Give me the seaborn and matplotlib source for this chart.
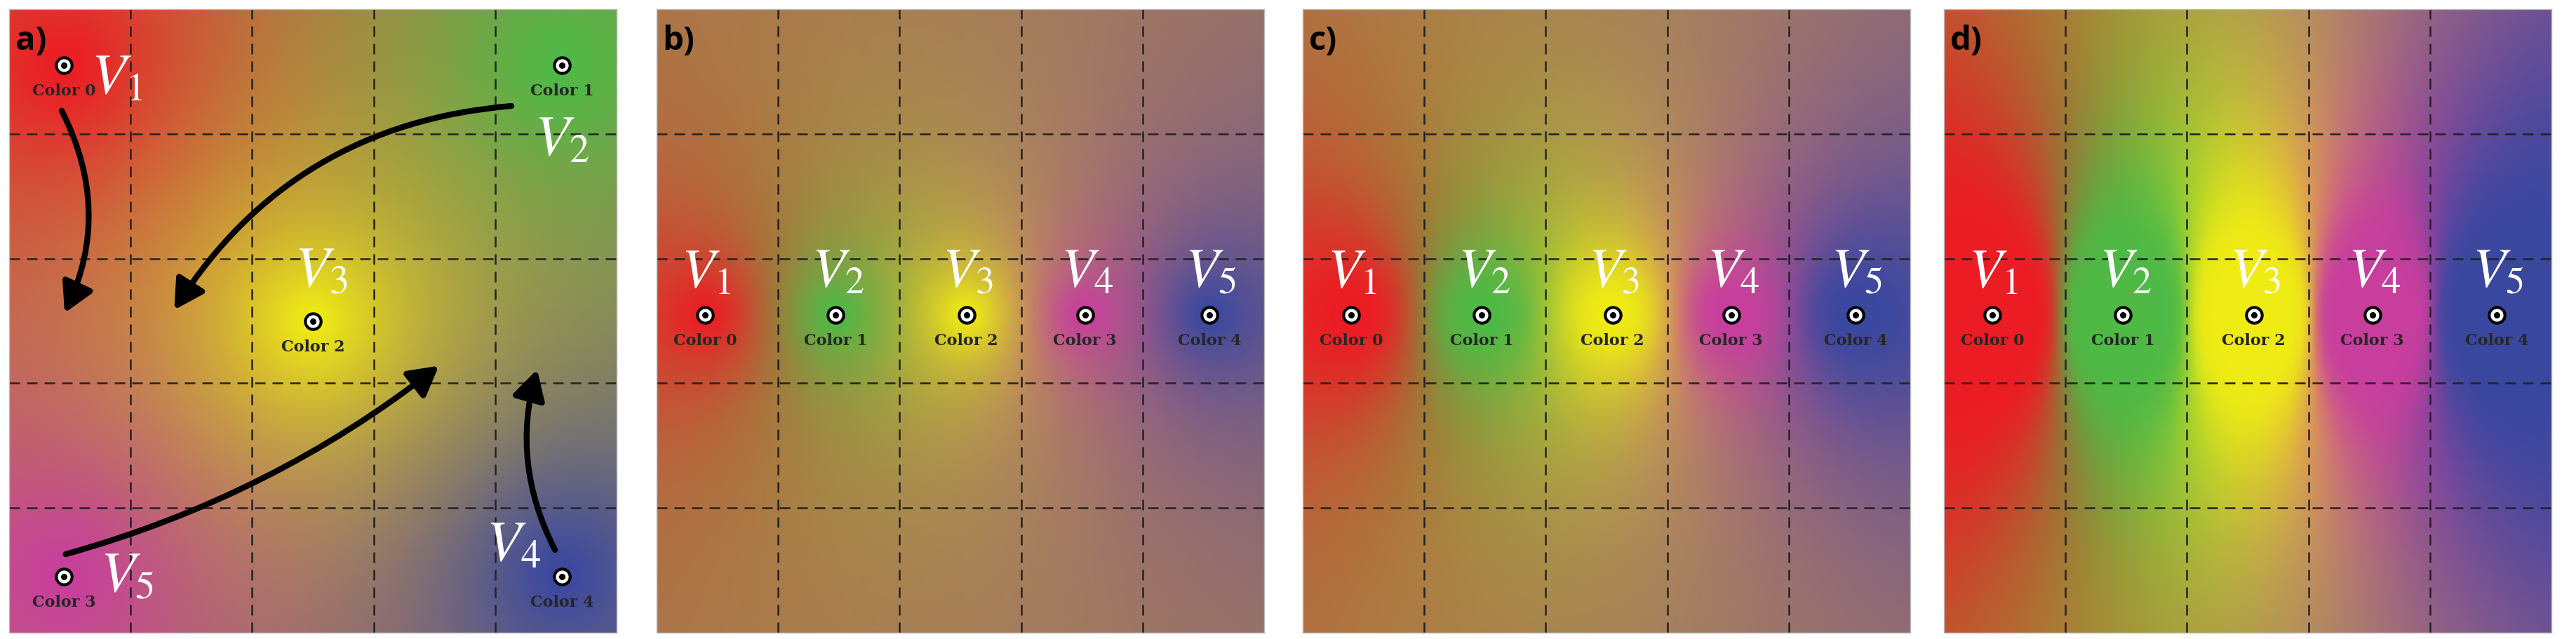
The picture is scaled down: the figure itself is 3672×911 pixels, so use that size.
import numpy as np
import matplotlib
matplotlib.use("Agg")
import matplotlib.pyplot as plt
import seaborn as sns
from matplotlib.patches import FancyArrowPatch

sns.set_style("white")
plt.rcParams['mathtext.fontset'] = 'stix'

colors = np.array([[237, 28, 36], [78, 186, 70], [240, 236, 20], [200, 62, 158], [58, 72, 160]]) / 255.0
color_labels = ["Color 0", "Color 1", "Color 2", "Color 3", "Color 4"]
v_labels = [r"$V_1$", r"$V_2$", r"$V_3$", r"$V_4$", r"$V_5$"]
panel_names = ["a)", "b)", "c)", "d)"]

pos_a_x = [0.09, 0.91, 0.50, 0.09, 0.91]
pos_a_y = [0.09, 0.09, 0.50, 0.91, 0.91]
vlab_a = [(0.135, 0.11, 0), (0.865, 0.21, 1), (0.47, 0.42, 2), (0.15, 0.91, 4), (0.785, 0.86, 3)]
pos_row_x = [0.08, 0.295, 0.51, 0.705, 0.91]
pos_row_y = [0.49] * 5
powers = [1.4, 1.5, 2.4, 7.0]

lefts = [13, 936, 1857, 2771]
W, H = 3673, 911
fig = plt.figure(figsize=(36.73, 9.11), dpi=100)

n = 300
gx, gy = np.meshgrid(np.linspace(0, 1, n), np.linspace(0, 1, n))

def idw(px, py, p):
    d = np.sqrt((gx[..., None] - np.array(px)) ** 2 + (gy[..., None] - np.array(py)) ** 2) + 1e-6
    w = d ** (-p)
    w /= w.sum(axis=2, keepdims=True)
    return np.tensordot(w, colors, axes=([2], [0])).clip(0, 1)

for k in range(4):
    ax = fig.add_axes([lefts[k] / W, 9 / H, 866 / W, 889 / H])
    if k == 0:
        px, py = pos_a_x, pos_a_y
    else:
        px, py = pos_row_x, pos_row_y
    img = idw(px, py, powers[k])
    ax.imshow(img, extent=[0, 1, 1, 0], interpolation="bilinear", aspect="auto")
    for g in [0.2, 0.4, 0.6, 0.8]:
        ax.axvline(g, color="#222222", ls=(0, (6, 4)), lw=1.8)
        ax.axhline(g, color="#222222", ls=(0, (6, 4)), lw=1.8)
    ax.scatter(px, py, s=260, facecolor="white", edgecolor="black", linewidth=3, zorder=5)
    ax.scatter(px, py, s=30, color="black", zorder=6)
    for i in range(5):
        ax.text(px[i], py[i] + 0.042, color_labels[i], ha="center", va="center",
                fontsize=16, fontweight="bold", family="DejaVu Serif", zorder=6)
    if k == 0:
        for (x, y, i) in vlab_a:
            ax.text(x, y, v_labels[i], ha="left", va="center", fontsize=58, color="white", zorder=7)
        arrows = [((0.085, 0.16), (0.09, 0.49), -0.25),
                  ((0.83, 0.155), (0.27, 0.485), 0.25),
                  ((0.09, 0.875), (0.71, 0.57), 0.1),
                  ((0.90, 0.87), (0.87, 0.575), -0.2)]
        for s, e, r in arrows:
            ax.add_patch(FancyArrowPatch(s, e, connectionstyle=f"arc3,rad={r}",
                                         arrowstyle="-|>,head_length=1.8,head_width=1.0",
                                         mutation_scale=14, lw=6, color="black", zorder=8))
    else:
        for i in range(5):
            ax.text(px[i] - 0.04, 0.42, v_labels[i], ha="left", va="center",
                    fontsize=56, color="white", zorder=7)
    ax.text(0.01, 0.025, panel_names[k], ha="left", va="top", fontsize=34,
            fontweight="bold", color="black", zorder=9, family="Open Sans")
    ax.set_xlim(0, 1)
    ax.set_ylim(1, 0)
    ax.set_xticks([])
    ax.set_yticks([])
    for sp in ax.spines.values():
        sp.set_color("#bbbbbb")
        sp.set_linewidth(1)

fig.savefig("out.png", dpi=100, facecolor="white")
